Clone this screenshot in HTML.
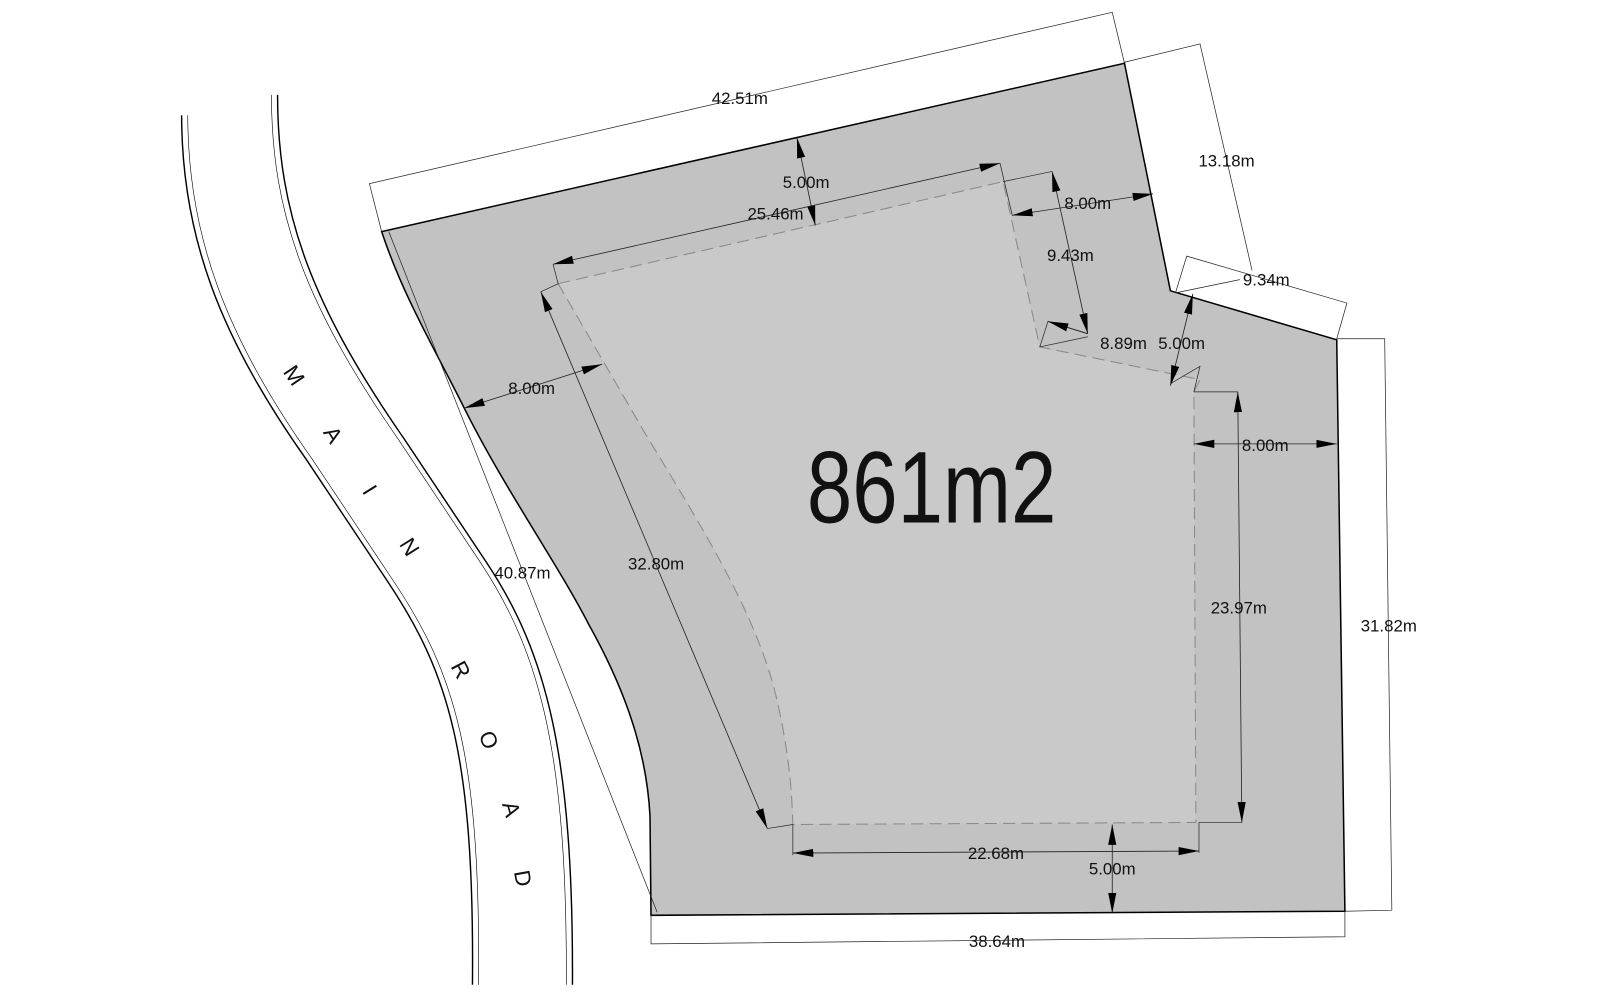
<!DOCTYPE html>
<html><head><meta charset="utf-8"><style>
html,body{margin:0;padding:0;background:#fff;}
svg{display:block;}
text{font-family:"Liberation Sans",Arial,sans-serif;font-size:16.5px;fill:#111;}
</style></head><body>
<svg width="1600" height="1000" viewBox="0 0 1568 980" xmlns="http://www.w3.org/2000/svg">
<defs>
<marker id="a" markerUnits="userSpaceOnUse" markerWidth="22" markerHeight="10" refX="20" refY="5" orient="auto-start-reverse" viewBox="0 0 22 10">
<path d="M0,1 L20,5 L0,9 Z" fill="#000"/>
</marker>
</defs>
<rect width="1568" height="980" fill="#fff"/>

<!-- road -->
<g fill="none" stroke="#000">
<path d="M178,113 C178,230 215,330 300,450 L380,570 C440,660 465,740 463,965" stroke-width="1.4"/>
<path d="M184,113 C184,230 221,330 306,450 L386,570 C446,660 471,740 469,965" stroke-width="0.6"/>
<path d="M266,93 C266,210 300,300 390,430 L470,550 C530,640 556,740 555,965" stroke-width="0.6"/>
<path d="M272,93 C272,210 306,300 396,430 L476,550 C536,640 562,740 561,965" stroke-width="1.4"/>
</g>
<g>
<text x="0" y="0" transform="translate(282,372) rotate(56)" text-anchor="middle" style="font-size:22px">M</text>
<text x="0" y="0" transform="translate(320,430) rotate(58)" text-anchor="middle" style="font-size:22px">A</text>
<text x="0" y="0" transform="translate(356,484) rotate(58)" text-anchor="middle" style="font-size:22px">I</text>
<text x="0" y="0" transform="translate(395,540) rotate(58)" text-anchor="middle" style="font-size:22px">N</text>
<text x="0" y="0" transform="translate(445,660) rotate(62)" text-anchor="middle" style="font-size:22px">R</text>
<text x="0" y="0" transform="translate(472,728) rotate(68)" text-anchor="middle" style="font-size:22px">O</text>
<text x="0" y="0" transform="translate(494,795) rotate(74)" text-anchor="middle" style="font-size:22px">A</text>
<text x="0" y="0" transform="translate(505,862) rotate(80)" text-anchor="middle" style="font-size:22px">D</text>
</g>

<!-- lot -->
<path d="M374,227 L1102,62 L1147,285 L1310,333 L1318,893 L638,897 L637,800 C634,740 615,680 577,612 C545,550 495,480 455,400 C425,340 395,290 374,227 Z" fill="#c2c2c2" stroke="#000" stroke-width="1.5"/>

<!-- building -->
<path d="M547,278 L983,178 L1019,340 L1176,372 L1170,384 L1172,806 L777,808 C776,770 772,730 760,680 C740,600 690,520 630,421 Z" fill="#c9c9c9" stroke="#888" stroke-width="1" stroke-dasharray="12,6"/>

<!-- thin dimension frames -->
<g fill="none" stroke="#222" stroke-width="0.7">
<path d="M374,227 L362,180 L1090,12 L1102,62"/>
<path d="M1102,61 L1176,43 L1227,265"/>
<path d="M1152,287 L1163,251 L1320,297 L1310,332"/>
<path d="M1152,287 L1215,274"/>
<path d="M1310,332 L1357,332 L1364,892 L1318,893"/>
<path d="M638,897 L638,925 L1318,918 L1318,893"/>
<path d="M381,227 L644,894"/>
<path d="M542,259 L547,278"/>
<path d="M980,160 L992,211"/>
<path d="M530,286 L547,278"/>
<path d="M983,178 L1031,168"/>
<path d="M1019,340 L1027,315 L1066,327"/>
<path d="M1019,340 L1066,330"/>
<path d="M1147,376 L1176,359 L1170,384"/>
<path d="M1170,384 L1213,384"/>
<path d="M1175,806 L1217,806"/>
<path d="M777,808 L777,838"/>
<path d="M1175,806 L1175,836"/>
<path d="M752,812 L777,808"/>
</g>

<!-- arrows -->
<g stroke="#222" stroke-width="0.8" fill="none" marker-start="url(#a)" marker-end="url(#a)">
<line x1="781" y1="135" x2="799" y2="221"/>
<line x1="542" y1="259" x2="980" y2="160"/>
<line x1="455" y1="400" x2="590" y2="357"/>
<line x1="530" y1="286" x2="752" y2="812"/>
<line x1="992" y1="211" x2="1130" y2="190"/>
<line x1="1031" y1="168" x2="1066" y2="327"/>
<line x1="1169" y1="288" x2="1147" y2="378"/>
<line x1="1170" y1="435" x2="1310" y2="435"/>
<line x1="1213" y1="384" x2="1217" y2="806"/>
<line x1="777" y1="836" x2="1175" y2="834"/>
<line x1="1090" y1="808" x2="1090" y2="895"/>
</g>
<line x1="1027" y1="315" x2="1066" y2="327" stroke="#222" stroke-width="0.8" marker-start="url(#a)"/>

<!-- labels -->
<g text-anchor="middle">
<text x="725" y="102">42.51m</text>
<text x="1202" y="163">13.18m</text>
<text x="1241" y="280">9.34m</text>
<text x="1361" y="619">31.82m</text>
<text x="977" y="928">38.64m</text>
<text x="512" y="567">40.87m</text>
<text x="790" y="184">5.00m</text>
<text x="760" y="215">25.46m</text>
<text x="521" y="386">8.00m</text>
<text x="643" y="558">32.80m</text>
<text x="1066" y="205">8.00m</text>
<text x="1049" y="256">9.43m</text>
<text x="1101" y="342">8.89m</text>
<text x="1158" y="342">5.00m</text>
<text x="1240" y="442">8.00m</text>
<text x="1214" y="601">23.97m</text>
<text x="976" y="842">22.68m</text>
<text x="1090" y="857">5.00m</text>
</g>
<text x="0" y="0" transform="translate(913,512) scale(0.8,1)" text-anchor="middle" style="font-size:100px">861m2</text>
</svg>
</body></html>
